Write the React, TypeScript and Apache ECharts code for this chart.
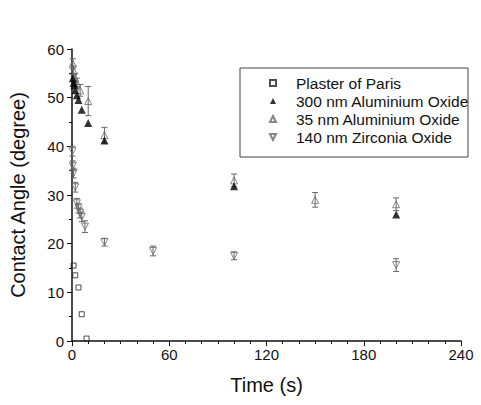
import React, { useEffect, useRef } from "react";
import * as echarts from "echarts";

const seriesNames = [
  "Plaster of Paris",
  "300 nm Aluminium Oxide",
  "35 nm Aluminium Oxide",
  "140 nm Zirconia Oxide",
];

const plasterT = [1, 2, 4, 6, 9];
const plasterV = [15.5, 13.5, 11, 5.5, 0.5];

const al300T = [0.5, 1, 1.5, 2, 3, 4, 6, 10, 20, 100, 200];
const al300V = [54, 53, 52.5, 51.5, 50.5, 49.5, 47.5, 44.8, 41.2, 31.8, 26];

const al35T = [0.5, 1, 2, 3, 5, 10, 20, 100, 150, 200];
const al35V = [57, 55.5, 54, 53, 51.5, 49.3, 42.3, 33, 29, 28.1];
const al35E = [1, 1, 1, 1, 1.2, 3, 1.6, 1.3, 1.5, 1.3];

const zrT = [0.3, 0.5, 1, 2, 3, 4, 5, 6, 8, 20, 50, 100, 200];
const zrV = [39, 36, 34.5, 31.6, 28.3, 27.3, 26.3, 25.5, 23.5, 20.3, 18.5, 17.5, 15.6];
const zrE = [1, 1, 1, 1, 1, 1, 1, 1, 1.2, 0.8, 1, 0.8, 1.3];

const xTicks = [0, 60, 120, 180, 240];
const yTicks = [0, 10, 20, 30, 40, 50, 60];

const FONT = "'Liberation Sans', Arial, sans-serif";
const DOWN_TRI = "path://M0,0 L10,0 L5,10 Z";

const zip = (t: number[], v: number[]) => t.map((x, i) => [x, v[i]]);
const zipE = (t: number[], v: number[], e: number[]) => t.map((x, i) => [x, v[i], e[i]]);

const errRender = (params: any, api: any) => {
  const x = api.value(0);
  const v = api.value(1);
  const e = api.value(2);
  const top = api.coord([x, v + e]);
  const bot = api.coord([x, v - e]);
  const w = 3;
  const st = { stroke: "#666", lineWidth: 1 };
  return {
    type: "group",
    children: [
      { type: "line", shape: { x1: top[0], y1: top[1], x2: bot[0], y2: bot[1] }, style: st },
      { type: "line", shape: { x1: top[0] - w, y1: top[1], x2: top[0] + w, y2: top[1] }, style: st },
      { type: "line", shape: { x1: bot[0] - w, y1: bot[1], x2: bot[0] + w, y2: bot[1] }, style: st },
    ],
  };
};

export default function App() {
  const ref = useRef<HTMLDivElement>(null);
  useEffect(() => {
    if (!ref.current) return;
    const chart = echarts.init(ref.current, null, { renderer: "svg" });
    chart.setOption({
      animation: false,
      backgroundColor: "#fff",
      grid: { left: 70, right: 20, top: 49, bottom: 64 },
      graphic: [
        {
          type: "rect",
          shape: { x: 240, y: 68, width: 228, height: 89 },
          style: { fill: "none", stroke: "#444", lineWidth: 1 },
          z: 10,
        },
      ],
      legend: {
        orient: "vertical",
        left: 269,
        top: 74,
        padding: 0,
        itemGap: 0,
        itemWidth: 6,
        itemHeight: 6,
        data: [
          { name: seriesNames[0] },
          { name: seriesNames[1] },
          { name: seriesNames[2] },
          { name: seriesNames[3], icon: DOWN_TRI },
        ],
        textStyle: {
          fontFamily: FONT,
          fontSize: 15.5,
          color: "#111",
          lineHeight: 18,
          padding: [0, 0, 0, 15],
        },
      },
      xAxis: {
        type: "value",
        min: 0,
        max: 240,
        interval: 60,
        name: "Time (s)",
        nameLocation: "middle",
        nameGap: 34,
        nameTextStyle: { fontFamily: FONT, fontSize: 20, color: "#111" },
        axisLine: { lineStyle: { color: "#111", width: 1.5 } },
        axisTick: { show: true, inside: false, length: 5, lineStyle: { color: "#111" } },
        minorTick: { show: true, splitNumber: 6, length: 3, lineStyle: { color: "#111" } },
        splitLine: { show: false },
        axisLabel: {
          fontFamily: FONT,
          fontSize: 15,
          color: "#111",
          margin: 6,
          formatter: (v: number) => (xTicks.includes(v) ? String(v) : ""),
        },
      },
      yAxis: {
        type: "value",
        min: 0,
        max: 60,
        interval: 10,
        name: "Contact Angle (degree)",
        nameLocation: "middle",
        nameGap: 44,
        nameTextStyle: { fontFamily: FONT, fontSize: 20, color: "#111" },
        axisLine: { show: true, lineStyle: { color: "#111", width: 1.5 } },
        axisTick: { show: true, inside: false, length: 5, lineStyle: { color: "#111" } },
        minorTick: { show: true, splitNumber: 2, length: 3, lineStyle: { color: "#111" } },
        splitLine: { show: false },
        axisLabel: {
          fontFamily: FONT,
          fontSize: 15,
          color: "#111",
          margin: 8,
          formatter: (v: number) => (yTicks.includes(v) ? String(v) : ""),
        },
      },
      series: [
        {
          name: seriesNames[0],
          type: "scatter",
          symbol: "rect",
          symbolSize: 5,
          itemStyle: { color: "transparent", borderColor: "#222", borderWidth: 1 },
          data: zip(plasterT, plasterV),
          z: 3,
        },
        {
          name: seriesNames[1],
          type: "scatter",
          symbol: "triangle",
          symbolSize: 8,
          itemStyle: { color: "#000", borderColor: "#000", borderWidth: 0 },
          data: zip(al300T, al300V),
          z: 4,
        },
        {
          name: seriesNames[2],
          type: "scatter",
          symbol: "triangle",
          symbolSize: 7,
          itemStyle: { color: "transparent", borderColor: "#666", borderWidth: 1 },
          data: zip(al35T, al35V),
          z: 3,
        },
        {
          name: seriesNames[3],
          type: "scatter",
          symbol: DOWN_TRI,
          symbolSize: 7,
          itemStyle: { color: "transparent", borderColor: "#666", borderWidth: 1 },
          data: zip(zrT, zrV),
          z: 3,
        },
        {
          type: "custom",
          renderItem: errRender,
          data: zipE(al35T, al35V, al35E),
          z: 2,
          silent: true,
        },
        {
          type: "custom",
          renderItem: errRender,
          data: zipE(zrT, zrV, zrE),
          z: 2,
          silent: true,
        },
      ],
    });
    return () => chart.dispose();
  }, []);
  return <div ref={ref} style={{ width: 481, height: 405, position: "absolute", left: 0, top: 0 }} />;
}
